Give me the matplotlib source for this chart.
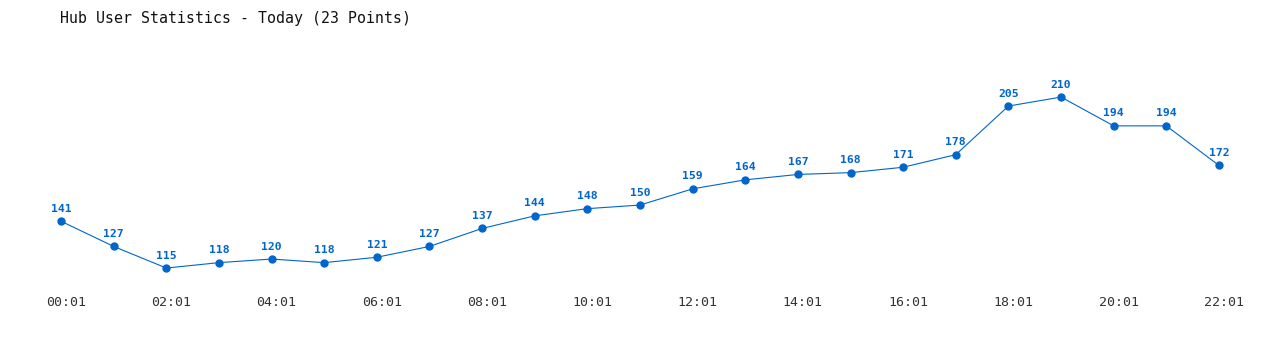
import matplotlib
matplotlib.use("Agg")
import matplotlib.pyplot as plt
import matplotlib.transforms as mtransforms

times = ["00:01", "01:01", "02:01", "03:01", "04:01", "05:01", "06:01", "07:01",
         "08:01", "09:01", "10:01", "11:01", "12:01", "13:01", "14:01", "15:01",
         "16:01", "17:01", "18:01", "19:01", "20:01", "21:01", "22:01"]
users = [141, 127, 115, 118, 120, 118, 121, 127, 137, 144, 148, 150, 159, 164,
         167, 168, 171, 178, 205, 210, 194, 194, 172]
title = "Hub User Statistics - Today (23 Points)"

color = "#0066cc"
mono = ["DejaVu Sans Mono"]

fig = plt.figure(figsize=(12.8, 3.5), dpi=100)
ax = fig.add_axes([40 / 1280, 60 / 350, 1200 / 1280, 250 / 350])
x = list(range(len(users)))
ax.plot(x, users, color=color, lw=0.8, marker="o", ms=5, mec=color, mfc=color)
for xi, v in zip(x, users):
    ax.annotate(str(v), (xi, v), xytext=(0, 9), textcoords="offset points",
                ha="center", va="center", fontsize=8.2, fontweight="bold",
                color=color, family=mono)
ax.set_xlim(-0.4, 22.4)
ax.set_ylim(102.8, 241.7)
ax.set_xticks(x[::2])
ax.set_xticklabels(times[::2], family=mono, fontsize=9.5, color="#333333")
ax.tick_params(axis="x", length=0, pad=4.5)
offset = mtransforms.ScaledTranslation(5 / 100, 0, fig.dpi_scale_trans)
for lbl in ax.get_xticklabels():
    lbl.set_transform(lbl.get_transform() + offset)
ax.set_yticks([])
for s in ax.spines.values():
    s.set_visible(False)
fig.text(60 / 1280, 1 - 18 / 350, title, family=mono, fontsize=10.75,
         color="#111111", ha="left", va="center")
fig.savefig("out.png", dpi=100, facecolor="white")
